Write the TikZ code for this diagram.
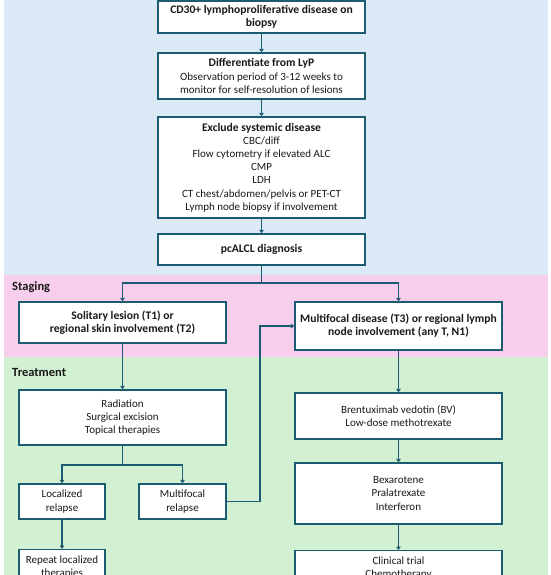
\documentclass[tikz,border=0pt]{standalone}
\usepackage{fontspec}
\setmainfont{Carlito}
\usetikzlibrary{arrows.meta}
\definecolor{bgblue}{RGB}{220,234,248}
\definecolor{bgpink}{RGB}{247,206,236}
\definecolor{bggreen}{RGB}{210,240,210}
\definecolor{edge}{RGB}{28,92,114}
\definecolor{txt}{RGB}{25,25,25}
\newcommand\hb{\fontsize{11.6}{13.2}\selectfont\bfseries}
\tikzset{
  box/.style={draw=edge, line width=1.3pt, fill=white, align=center, inner sep=2pt,
    font=\fontsize{11}{13.2}\selectfont, text=txt},
  arr/.style={draw=edge, line width=1.2pt, -{Triangle[width=4.5pt,length=3.5pt]}},
  ln/.style={draw=edge, line width=1.2pt},
  lab/.style={anchor=west, font=\fontsize{12.5}{14}\selectfont\bfseries, text=txt, inner sep=0pt}
}
\begin{document}
\begin{tikzpicture}[x=1pt,y=-1pt]
\useasboundingbox (0,0) rectangle (550,575);
\clip (0,0) rectangle (550,575);
\fill[white] (0,0) rectangle (550,575);
\fill[bgblue] (4,-5) rectangle (548,275);
\fill[bgpink] (4,275) rectangle (548,357);
\fill[bggreen] (4,357) rectangle (548,580);
\node[lab] (lstag) at (12,287) {Staging};
\node[lab] (ltreat) at (12,372) {Treatment};
\node[box, minimum width=207pt, minimum height=32pt] (b1) at (261.5,17)
  {\hb CD30+ lymphoproliferative disease on\\\hb biopsy};
\node[box, minimum width=207pt, minimum height=46pt] (b2) at (261.5,76)
  {\hb Differentiate from LyP\\Observation period of 3-12 weeks to\\monitor for self-resolution of lesions};
\node[box, minimum width=207pt, minimum height=101pt] (b3) at (261.5,167.5)
  {\hb Exclude systemic disease\\CBC/diff\\Flow cytometry if elevated ALC\\CMP\\LDH\\CT chest/abdomen/pelvis or PET-CT\\Lymph node biopsy if involvement};
\node[box, minimum width=207pt, minimum height=31pt] (b4) at (261.5,249.5)
  {\hb pcALCL diagnosis};
\node[box, minimum width=207pt, minimum height=41pt] (b5) at (122.5,322.5)
  {\hb Solitary lesion (T1) or\\\hb regional skin involvement (T2)};
\node[box, minimum width=207pt, minimum height=48pt] (b6) at (398.5,326)
  {\hb Multifocal disease (T3) or regional lymph\\\hb node involvement (any T, N1)};
\node[box, minimum width=207pt, minimum height=55pt] (b7) at (122.5,417.5)
  {Radiation\\Surgical excision\\Topical therapies};
\node[box, minimum width=207pt, minimum height=46pt] (b8) at (398.5,416)
  {Brentuximab vedotin (BV)\\Low-dose methotrexate};
\node[box, minimum width=86pt, minimum height=35pt] (b9) at (62,501.5)
  {Localized\\relapse};
\node[box, minimum width=87pt, minimum height=35pt] (b10) at (182.5,501.5)
  {Multifocal\\relapse};
\node[box, minimum width=207pt, minimum height=61pt] (b11) at (398.5,493.5)
  {Bexarotene\\Pralatrexate\\Interferon};
\node[box, minimum width=207pt, inner ysep=6pt, anchor=north, text depth=30pt] (b12) at (398.5,550)
  {Clinical trial\\Chemotherapy};
\node[box, minimum width=86pt, inner ysep=6pt, anchor=north, text depth=30pt] (b13) at (62,549)
  {Repeat localized\\therapies};
\coordinate (j1) at (261.5,283);
\coordinate (j2) at (122.5,465);
\coordinate (j3) at (260,501.5);
\draw[arr] (b1) -- (b2);
\draw[arr] (b2) -- (b3);
\draw[arr] (b3) -- (b4);
\draw[ln] (b4) -- (j1);
\draw[arr] (j1) -| (b5);
\draw[arr] (j1) -| (b6);
\draw[arr] (b5) -- (b7);
\draw[arr] (b6) -- (b8);
\draw[ln] (b7) -- (j2);
\draw[arr] (j2) -| (b9);
\draw[arr] (j2) -| (b10);
\draw[ln] (b10) -- (j3);
\draw[arr] (j3) |- (b6);
\draw[arr] (b8) -- (b11);
\draw[arr] (b11) -- (b12);
\draw[arr] (b9) -- (b13);
\end{tikzpicture}
\end{document}
